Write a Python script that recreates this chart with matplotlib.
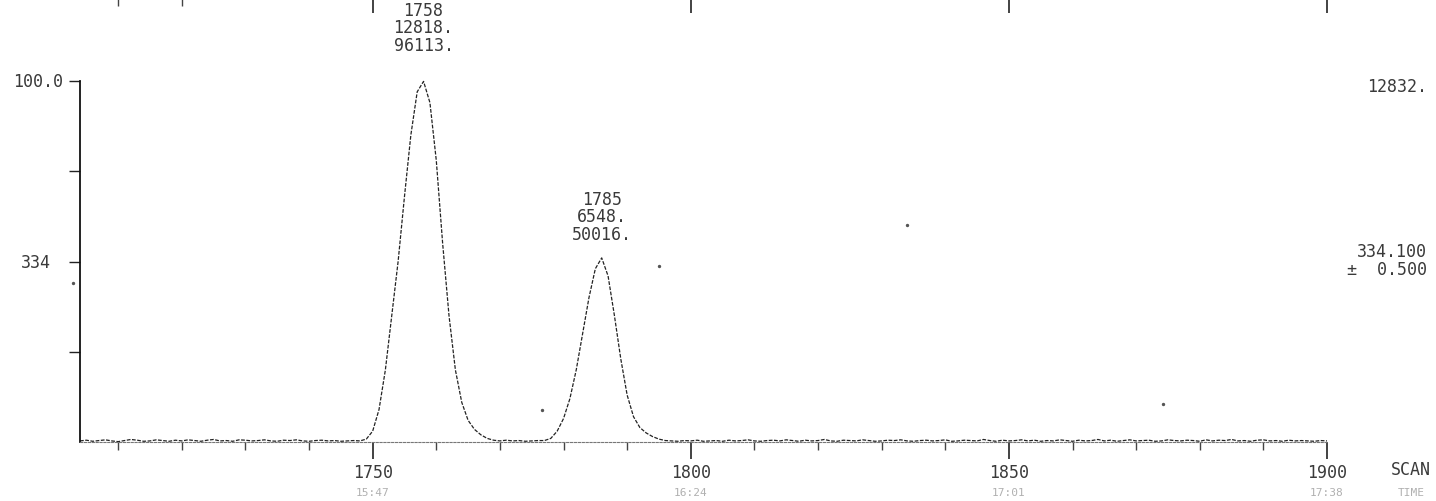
import matplotlib
matplotlib.use("Agg")
import matplotlib.pyplot as plt
import matplotlib.transforms as mtransforms
import numpy as np

# ---------------- data ----------------
scan_start = 1704
intensity = [
    # 1704-1747 baseline
    0.3, 0.5, 0.2, 0.4, 0.6, 0.3, 0.1, 0.4, 0.7, 0.5,
    0.2, 0.3, 0.6, 0.4, 0.2, 0.5, 0.3, 0.6, 0.4, 0.2,
    0.5, 0.7, 0.3, 0.4, 0.2, 0.6, 0.5, 0.3, 0.4, 0.6,
    0.3, 0.2, 0.5, 0.4, 0.6, 0.3, 0.2, 0.4, 0.5, 0.3,
    0.4, 0.2, 0.3, 0.4,
    # 1748-1769 peak 1
    0.3, 0.8, 3.0, 9.0, 20.0, 35.0, 50.0, 68.0, 85.0, 97.0,
    99.9, 94.0, 78.0, 55.0, 35.0, 20.0, 11.0, 6.0, 3.5, 2.0,
    1.0, 0.5,
    # 1770-1776
    0.3, 0.5, 0.3, 0.4, 0.2, 0.3, 0.4,
    # 1777-1796 peak 2
    0.4, 1.0, 3.0, 6.5, 12.0, 20.0, 30.0, 40.0, 48.0, 51.0,
    46.0, 35.0, 23.0, 13.0, 7.0, 4.0, 2.5, 1.5, 0.8, 0.4,
    # 1797-1900 baseline
    0.3, 0.2, 0.4, 0.3, 0.5, 0.2, 0.3, 0.4, 0.2, 0.5,
    0.3, 0.4, 0.6, 0.3, 0.2, 0.4, 0.5, 0.3, 0.6, 0.4,
    0.2, 0.5, 0.3, 0.4, 0.7, 0.3, 0.2, 0.5, 0.4, 0.3,
    0.6, 0.4, 0.2, 0.3, 0.5, 0.4, 0.6, 0.3, 0.2, 0.4,
    0.5, 0.3, 0.4, 0.6, 0.2, 0.3, 0.5, 0.4, 0.3, 0.7,
    0.4, 0.2, 0.5, 0.3, 0.4, 0.6, 0.3, 0.5, 0.2, 0.4,
    0.3, 0.6, 0.4, 0.2, 0.5, 0.3, 0.4, 0.7, 0.3, 0.5,
    0.2, 0.4, 0.6, 0.3, 0.4, 0.5, 0.2, 0.3, 0.6, 0.4,
    0.3, 0.5, 0.4, 0.2, 0.6, 0.3, 0.5, 0.4, 0.7, 0.3,
    0.4, 0.2, 0.5, 0.6, 0.3, 0.4, 0.2, 0.5, 0.3, 0.4,
    0.3, 0.2, 0.4, 0.3,
]
scans = np.arange(scan_start, scan_start + len(intensity))

peak_scans = [1758, 1786]
peak_heights = [99.9, 51.0]
peak_labels = ["1758\n12818.\n96113.", "1785\n6548.\n50016."]

x_major = [1750, 1800, 1850, 1900]
x_major_labels = ["1750", "1800", "1850", "1900"]
x_time_labels = ["15:47", "16:24", "17:01", "17:38"]
y_ticks = [25, 50, 75, 100]
y_label_values = [100, 50]
y_label_texts = ["100.0", "334"]

speck_x = [1776.6, 1795.0, 1834.0, 1874.3, 1702.9]
speck_y = [9.0, 48.7, 60.0, 10.5, 44.0]

full_scale = "12832."
mass_text = "334.100\n\u00b1  0.500"

# ---------------- figure ----------------
W, H = 1436, 502
fig = plt.figure(figsize=(W / 100, H / 100), dpi=100)
ax_l, ax_r = 80 / W, 1327 / W
ax_b, ax_t = (H - 443) / H, (H - 82) / H
ax = fig.add_axes([ax_l, ax_b, ax_r - ax_l, ax_t - ax_b])
ax.set_xlim(scan_start, 1900)
ax.set_ylim(0, 100)

mono = "DejaVu Sans Mono"
tcol = "#3a3a3a"
fs = 12

ax.plot(scans, intensity, color="#222222", lw=0.9,
        linestyle=(0, (3, 1.2)), clip_on=False)
ax.scatter(speck_x, speck_y, s=2, color="#555555", clip_on=False)

label_offsets = [20, 11]
for xs, hs, lab, off in zip(peak_scans, peak_heights, peak_labels, label_offsets):
    ax.annotate(lab, xy=(xs, hs), xytext=(0, off), textcoords="offset points",
                ha="center", va="bottom", fontsize=fs, family=mono,
                color=tcol, linespacing=0.95, annotation_clip=False)

for s in ["top", "right"]:
    ax.spines[s].set_visible(False)
ax.spines["left"].set_linewidth(1.3)
ax.spines["left"].set_color("#111111")
ax.spines["bottom"].set_color("#777777")
ax.spines["bottom"].set_linewidth(0.8)
ax.spines["bottom"].set_linestyle((0, (2, 1.5)))

ax.set_yticks(y_ticks)
ax.set_yticklabels([])
ax.tick_params(axis="y", direction="out", length=8, width=1.0, colors="#222222")
ytrans = mtransforms.blended_transform_factory(fig.transFigure, ax.transData)
ax.text(63 / W, y_label_values[0], y_label_texts[0], transform=ytrans,
        ha="right", va="center", fontsize=fs, family=mono, color=tcol)
ax.text(51 / W, y_label_values[1], y_label_texts[1], transform=ytrans,
        ha="right", va="center", fontsize=fs, family=mono, color=tcol)

ax.set_xticks(x_major)
ax.set_xticklabels(x_major_labels, family=mono, fontsize=fs, color=tcol)
ax.set_xticks(np.arange(1710, 1900, 10), minor=True)
ax.tick_params(axis="x", which="major", direction="out", length=12, width=1.2,
               pad=3, colors="#222222")
ax.tick_params(axis="x", which="minor", direction="out", length=6, width=1.0,
               colors="#444444")
for t in ax.get_xticklabels():
    t.set_color(tcol)

trans = mtransforms.blended_transform_factory(ax.transData, fig.transFigure)
for xv, tl in zip(x_major, x_time_labels):
    ax.text(xv, (H - 493) / H, tl, transform=trans, ha="center", va="center",
            fontsize=8, family=mono, color="#b0b0b0")
fig.text(1411 / W, (H - 470) / H, "SCAN", ha="center", va="center",
         fontsize=fs, family=mono, color=tcol)
fig.text(1411 / W, (H - 493) / H, "TIME", ha="center", va="center",
         fontsize=8, family=mono, color="#b0b0b0")

fig.text(1427 / W, (H - 87) / H, full_scale, ha="right", va="center",
         fontsize=fs, family=mono, color=tcol)
fig.text(1427 / W, (H - 261) / H, mass_text, ha="right", va="center",
         fontsize=fs, family=mono, color=tcol, linespacing=1.05)

# tick marks of the panel above, hanging from the top edge
top = fig.add_axes([ax_l, 1.0, ax_r - ax_l, 0.0001])
top.set_xlim(scan_start, 1900)
for s in ["top", "right", "left", "bottom"]:
    top.spines[s].set_visible(False)
top.set_yticks([])
top.set_xticks(x_major)
top.set_xticklabels([])
top.set_xticks([1710, 1720], minor=True)
top.tick_params(axis="x", which="major", direction="out", length=10, width=1.2, colors="#222222")
top.tick_params(axis="x", which="minor", direction="out", length=5, width=1.0, colors="#444444")

fig.savefig("out.png", dpi=100, facecolor="white")
